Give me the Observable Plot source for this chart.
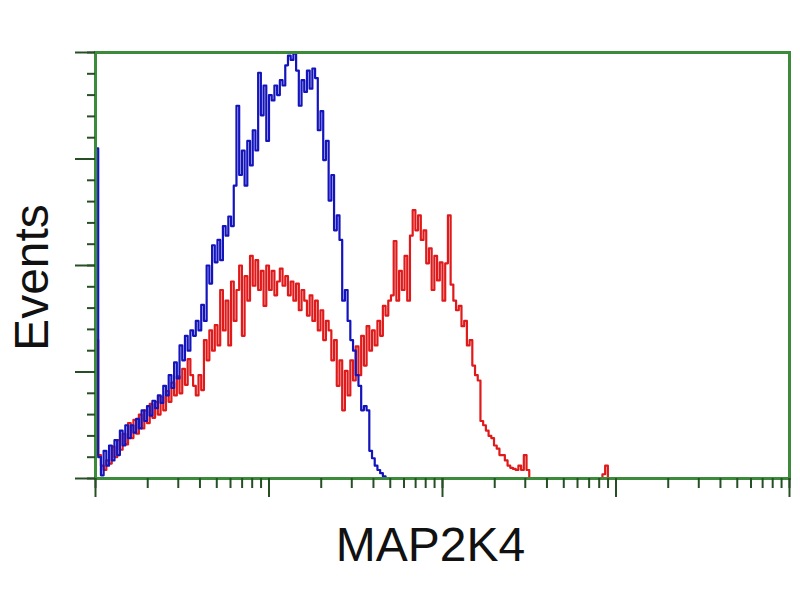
<!DOCTYPE html>
<html>
<head>
<meta charset="utf-8">
<script src="https://cdn.jsdelivr.net/npm/d3@7"></script>
<script src="https://cdn.jsdelivr.net/npm/@observablehq/plot@0.6"></script>
<style>
  body { margin: 0; background: #fff; }
</style>
</head>
<body>
<div id="chart"></div>
<script>
// Histogram channels: 64 channels per decade on a 4-decade log axis
const channelsPerDecade = 64;

// Isotype control (blue) counts per channel, starting at channel 0
const blueCounts = [
  310, 20, 3, 26, 12, 31, 17, 36, 22, 45,
  31, 50, 38, 50, 43, 56, 47, 64, 54, 68,
  59, 73, 66, 78, 71, 87, 78, 97, 85, 109,
  94, 125, 111, 134, 120, 139, 134, 148, 139, 163,
  148, 200, 183, 219, 203, 224, 205, 237, 228, 246,
  237, 275, 350, 285, 308, 275, 317, 294, 327, 308,
  381, 341, 369, 317, 360, 355, 369, 360, 374, 369,
  388, 397, 393, 399, 383, 350, 374, 363, 383, 366,
  385, 376, 327, 345, 299, 317, 261, 285, 233, 247,
  224, 167, 177, 148, 130, 120, 97, 87, 64, 68,
  64, 26, 19, 12, 8, 5, 2, 0
];

// MAP2K4 stained sample (red) counts per channel, starting at channel 0
const redCounts = [
  130, 22, 12, 8, 17, 14, 30, 20, 36, 27,
  42, 32, 52, 38, 55, 42, 60, 47, 64, 52,
  70, 57, 72, 60, 77, 64, 82, 72, 90, 78,
  96, 80, 103, 88, 112, 97, 87, 78, 97, 83,
  130, 111, 139, 120, 144, 125, 177, 139, 167, 125,
  185, 148, 177, 200, 134, 190, 167, 209, 181, 205,
  177, 195, 162, 200, 177, 195, 172, 185, 197, 181,
  190, 172, 185, 167, 183, 158, 177, 167, 153, 172,
  148, 167, 139, 158, 130, 148, 139, 111, 130, 87,
  111, 64, 101, 78, 111, 92, 124, 97, 134, 106,
  143, 120, 139, 125, 148, 134, 162, 153, 167, 172,
  223, 167, 195, 177, 209, 167, 228, 252, 233, 247,
  224, 233, 202, 216, 177, 209, 186, 203, 167, 202,
  247, 182, 167, 158, 162, 143, 148, 125, 130, 106,
  97, 92, 54, 50, 45, 40, 38, 31, 28, 22,
  22, 17, 12, 10, 9, 8, 12, 8, 22, 8,
  0, 0, 0, 0, 0, 0, 0, 0, 0, 0,
  0, 0, 0, 0, 0, 0, 0, 0, 0, 0,
  0, 0, 0, 0, 0, 0, 0, 4, 12, 0
];

// Axis ticks (no tick labels in the original)
const xMajorTicks = [1, 10, 100, 1000, 10000];
const xMinorTicks = [
  1, 2, 3, 4, 5, 6, 7, 8, 9,
  10, 20, 30, 40, 50, 60, 70, 80, 90,
  100, 200, 300, 400, 500, 600, 700, 800, 900,
  1000, 2000, 3000, 4000, 5000, 6000, 7000, 8000, 9000, 10000
];
const yMajorTicks = [0, 100, 200, 300, 400];
const yMinorTicks = [0, 20, 40, 60, 80, 100, 120, 140, 160, 180, 200, 220, 240, 260, 280, 300, 320, 340, 360, 380, 400];

const xLabel = "MAP2K4";
const yLabel = "Events";

const toRows = (counts) => counts.map((c, i) => ({x: Math.pow(10, i / channelsPerDecade), y: c}));
const blueData = toRows(blueCounts);
const redData = toRows(redCounts);

const frameColor = "#3b8b3b";
const tickColor = "#264f26";
const noLabel = () => "";

const chart = Plot.plot({
  width: 800,
  height: 600,
  marginLeft: 95,
  marginRight: 11,
  marginTop: 52,
  marginBottom: 122,
  x: {type: "log", domain: [1, 10000]},
  y: {domain: [0, 400]},
  style: {background: "#fff", fontFamily: "'Liberation Sans', Arial, sans-serif"},
  marks: [
    Plot.line(redData, {x: "x", y: "y", curve: "step-after", stroke: "#e01a1a", strokeWidth: 2.2}),
    Plot.line(blueData, {x: "x", y: "y", curve: "step-after", stroke: "#1414bc", strokeWidth: 2.2}),
    Plot.frame({stroke: frameColor, strokeWidth: 3}),
    Plot.axisX({ticks: xMinorTicks, tickSize: 10, tickFormat: noLabel, stroke: tickColor, strokeWidth: 2, label: null}),
    Plot.axisX({ticks: xMajorTicks, tickSize: 19, tickFormat: noLabel, stroke: tickColor, strokeWidth: 2, label: null}),
    Plot.axisY({ticks: yMinorTicks, tickSize: 8, tickFormat: noLabel, stroke: tickColor, strokeWidth: 2, label: null}),
    Plot.axisY({ticks: yMajorTicks, tickSize: 20, tickFormat: noLabel, stroke: tickColor, strokeWidth: 2, label: null}),
    Plot.text([xLabel], {frameAnchor: "bottom", textAnchor: "middle", lineAnchor: "middle", dx: -12, dy: 67, fontSize: 48, fill: "#111"}),
    Plot.text([yLabel], {frameAnchor: "left", textAnchor: "middle", lineAnchor: "middle", rotate: -90, dx: -63, dy: 12, fontSize: 48, fill: "#111"})
  ]
});

document.getElementById("chart").appendChild(chart);
</script>
</body>
</html>
